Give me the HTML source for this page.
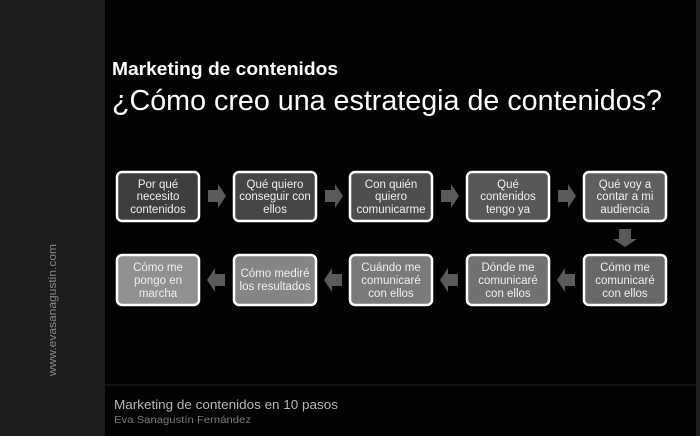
<!DOCTYPE html>
<html><head><meta charset="utf-8"><style>
html,body{margin:0;padding:0;background:#000;}
svg{display:block;}
text{font-family:"Liberation Sans",sans-serif;}
</style></head><body>
<svg width="700" height="436" viewBox="0 0 700 436" xmlns="http://www.w3.org/2000/svg">
<rect width="700" height="436" fill="#020202"/>
<rect x="0" y="0" width="105" height="436" fill="#1c1c1c"/>
<rect x="696" y="0" width="4" height="436" fill="#1e1e1e"/>
<rect x="105" y="384" width="591" height="2" fill="#141414"/>
<text transform="translate(56,310) rotate(-90)" text-anchor="middle" font-size="11" fill="#8a8a8a" textLength="132" lengthAdjust="spacingAndGlyphs">www.evasanagustin.com</text>
<text x="112" y="75" font-size="18" font-weight="bold" fill="#fff" textLength="226" lengthAdjust="spacingAndGlyphs">Marketing de contenidos</text>
<text x="112" y="110" font-size="29" fill="#fff" textLength="550" lengthAdjust="spacingAndGlyphs">¿Cómo creo una estrategia de contenidos?</text>
<text x="114" y="409" font-size="13" fill="#b8b8b8" textLength="224" lengthAdjust="spacingAndGlyphs">Marketing de contenidos en 10 pasos</text>
<text x="114" y="423" font-size="10.5" fill="#7a7a7a" textLength="137" lengthAdjust="spacingAndGlyphs">Eva Sanagustín Fernández</text>
<g stroke="#fff" stroke-width="2.5">
<rect x="117" y="172" width="82" height="49" rx="5" fill="#3e3e3e"/>
<rect x="234" y="172" width="82" height="49" rx="5" fill="#464646"/>
<rect x="350" y="172" width="82" height="49" rx="5" fill="#4e4e4e"/>
<rect x="467" y="172" width="82" height="49" rx="5" fill="#575757"/>
<rect x="584" y="172" width="82" height="49" rx="5" fill="#5f5f5f"/>
<rect x="584" y="255" width="82" height="50" rx="5" fill="#686868"/>
<rect x="467" y="255" width="82" height="50" rx="5" fill="#717171"/>
<rect x="350" y="255" width="82" height="50" rx="5" fill="#7a7a7a"/>
<rect x="234" y="255" width="82" height="50" rx="5" fill="#858585"/>
<rect x="117" y="255" width="82" height="50" rx="5" fill="#909090"/>
</g>
<g fill="#5a5a5a">
<path d="M208,190h10v-6l8,12l-8,12v-6h-10z"/>
<path d="M325,190h10v-6l8,12l-8,12v-6h-10z"/>
<path d="M441,190h10v-6l8,12l-8,12v-6h-10z"/>
<path d="M558,190h10v-6l8,12l-8,12v-6h-10z"/>
<path d="M619,229v10h-6l12,8l12,-8h-6v-10z"/>
<path d="M575,274h-10v-6l-8,12l8,12v-6h10z"/>
<path d="M458,274h-10v-6l-8,12l8,12v-6h10z"/>
<path d="M342,274h-10v-6l-8,12l8,12v-6h10z"/>
<path d="M225,274h-10v-6l-8,12l8,12v-6h10z"/>
</g>
<g font-size="11.5" fill="#f0f0f0" text-anchor="middle">
<text x="158" y="188">Por qué</text><text x="158" y="200">necesito</text><text x="158" y="213">contenidos</text>
<text x="275" y="188">Qué quiero</text><text x="275" y="200">conseguir con</text><text x="275" y="213">ellos</text>
<text x="391" y="188">Con quién</text><text x="391" y="200">quiero</text><text x="391" y="213">comunicarme</text>
<text x="508" y="188">Qué</text><text x="508" y="200">contenidos</text><text x="508" y="213">tengo ya</text>
<text x="625" y="188">Qué voy a</text><text x="625" y="200">contar a mi</text><text x="625" y="213">audiencia</text>
<text x="625" y="271">Cómo me</text><text x="625" y="284">comunicaré</text><text x="625" y="297">con ellos</text>
<text x="508" y="271">Dónde me</text><text x="508" y="284">comunicaré</text><text x="508" y="297">con ellos</text>
<text x="391" y="271">Cuándo me</text><text x="391" y="284">comunicaré</text><text x="391" y="297">con ellos</text>
<text x="275" y="277">Cómo mediré</text><text x="275" y="290">los resultados</text>
<text x="158" y="271">Cómo me</text><text x="158" y="284">pongo en</text><text x="158" y="297">marcha</text>
</g>
</svg>
</body></html>
